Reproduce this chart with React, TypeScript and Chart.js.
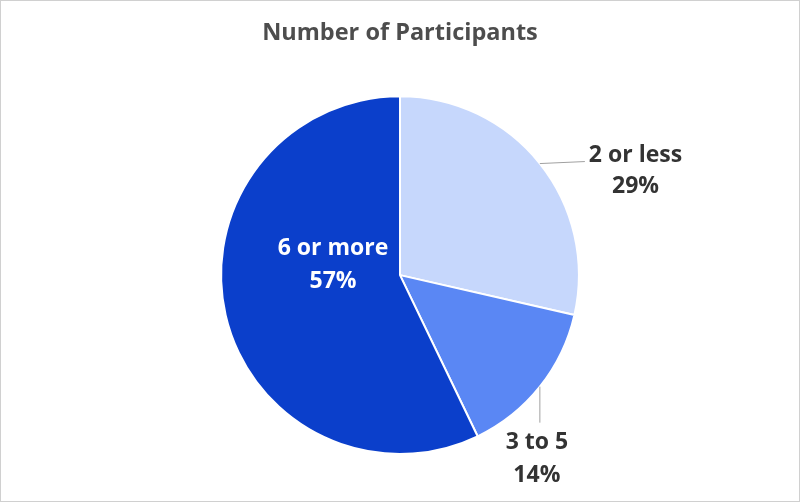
import { useRef, useEffect } from "react"
import { Chart, registerables } from "chart.js"

Chart.register(...registerables)

// Data
const categories = ["2 or less", "3 to 5", "6 or more"]
const participants = [2, 1, 4]
const sliceColors = ["#c6d7fc", "#5a87f4", "#0b3fcb"]

const FONT = "'Open Sans', 'Noto Sans', sans-serif"

// Draws the slice labels (outside with leader lines for the small slices, inside for the big one)
const sliceLabels = {
  id: "sliceLabels",
  afterDatasetsDraw(chart: Chart) {
    const ctx = chart.ctx
    const meta = chart.getDatasetMeta(0)
    const values = chart.data.datasets[0].data as number[]
    const total = values.reduce((a, b) => a + b, 0)

    ctx.save()
    ctx.font = `bold 23px ${FONT}`
    ctx.textBaseline = "alphabetic"

    meta.data.forEach((el: any, i: number) => {
      const { x, y, outerRadius, startAngle, endAngle } = el.getProps(
        ["x", "y", "outerRadius", "startAngle", "endAngle"],
        true
      )
      const mid = (startAngle + endAngle) / 2
      const px = x + Math.cos(mid) * outerRadius
      const py = y + Math.sin(mid) * outerRadius
      const pct = Math.round((values[i] / total) * 100) + "%"
      const name = categories[i]

      if (i === 0) {
        // horizontal leader to the right
        const ex = px + 45
        const ey = py - 2
        ctx.strokeStyle = "#a0a0a0"
        ctx.lineWidth = 1
        ctx.beginPath()
        ctx.moveTo(px, py)
        ctx.lineTo(ex, ey)
        ctx.stroke()
        ctx.fillStyle = "#333333"
        ctx.textAlign = "left"
        ctx.fillText(name, ex + 4, ey)
        const w = ctx.measureText(name).width
        ctx.textAlign = "center"
        ctx.fillText(pct, ex + 4 + w / 2, ey + 31)
      } else if (i === 1) {
        // vertical leader downwards
        const ex = px
        const ey = py + 36
        ctx.strokeStyle = "#a0a0a0"
        ctx.lineWidth = 1
        ctx.beginPath()
        ctx.moveTo(px, py)
        ctx.lineTo(ex, ey)
        ctx.stroke()
        ctx.fillStyle = "#333333"
        ctx.textAlign = "center"
        ctx.fillText(name, ex - 3, ey + 26)
        ctx.fillText(pct, ex - 3, ey + 59)
      } else {
        // inside the slice
        ctx.fillStyle = "#ffffff"
        ctx.textAlign = "center"
        ctx.fillText(name, x - 67, y - 20)
        ctx.fillText(pct, x - 67, y + 13)
      }
    })
    ctx.restore()
  },
}

export default function App() {
  const chartRef = useRef<HTMLCanvasElement>(null)
  const chartInstance = useRef<Chart | null>(null)

  useEffect(() => {
    if (!chartRef.current) return

    if (chartInstance.current) {
      chartInstance.current.destroy()
    }

    const ctx = chartRef.current.getContext("2d")
    if (ctx) {
      chartInstance.current = new Chart(ctx, {
        type: "pie",
        data: {
          labels: categories,
          datasets: [
            {
              data: participants,
              backgroundColor: sliceColors,
              borderColor: "#ffffff",
              borderWidth: 2,
              hoverOffset: 0,
            },
          ],
        },
        options: {
          responsive: false,
          animation: false,
          layout: {
            padding: { top: 0, bottom: 46, left: 219, right: 219 },
          },
          plugins: {
            legend: { display: false },
            tooltip: { enabled: false },
            title: {
              display: true,
              text: "Number of Participants",
              color: "#4d4d4d",
              font: { family: FONT, size: 23.5, weight: "bold" },
              padding: { top: 18, bottom: 48 },
            },
          },
        },
        plugins: [sliceLabels],
      })
    }

    return () => {
      if (chartInstance.current) {
        chartInstance.current.destroy()
      }
    }
  }, [])

  return (
    <div
      style={{
        position: "fixed",
        left: 0,
        top: 0,
        width: 800,
        height: 502,
        boxSizing: "border-box",
        border: "1px solid #d0d0d0",
        background: "#ffffff",
      }}
    >
      <canvas ref={chartRef} width={798} height={500} style={{ display: "block" }} />
    </div>
  )
}
